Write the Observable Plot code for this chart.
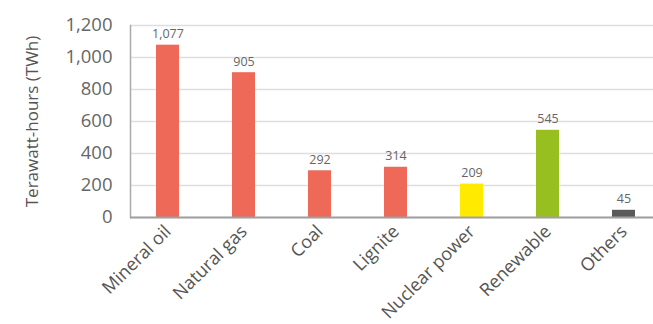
<!DOCTYPE html>
<html>
<head>
<meta charset="utf-8">
<script src="https://cdn.jsdelivr.net/npm/d3@7"></script>
<script src="https://cdn.jsdelivr.net/npm/@observablehq/plot@0.6"></script>
<style>
  html, body { margin: 0; padding: 0; background: #fff; overflow: hidden; }
  #chart { width: 653px; height: 324px; overflow: hidden; }
  #chart svg { overflow: hidden; }
</style>
</head>
<body>
<div id="chart"></div>
<script>
const categories = ["Mineral oil", "Natural gas", "Coal", "Lignite", "Nuclear power", "Renewable", "Others"];
const values = [1077, 905, 292, 314, 209, 545, 45];
const colors = ["#ee6957", "#ee6957", "#ee6957", "#ee6957", "#ffea00", "#97bf1f", "#5a5a5a"];
const yTicks = [0, 200, 400, 600, 800, 1000, 1200];

const data = categories.map((c, i) => ({category: c, value: values[i], color: colors[i]}));

const fmt = d3.format(",");
const font = "'Open Sans', sans-serif";

const chart = Plot.plot({
  width: 653,
  height: 324,
  marginLeft: 130,
  marginRight: -8,
  marginTop: 25,
  marginBottom: 107,
  style: {fontFamily: font, background: "#fff", color: "#666"},
  x: {domain: categories, paddingInner: 0.7, paddingOuter: 0.34},
  y: {domain: [0, 1200]},
  marks: [
    Plot.gridY(yTicks, {stroke: "#dedede", strokeOpacity: 1, strokeWidth: 1.5}),
    Plot.frame({anchor: "left", stroke: "#aaa", strokeWidth: 1.5}),
    Plot.barY(data, {x: "category", y: "value", fill: "color"}),
    Plot.ruleY([0], {stroke: "#a0a0a0", strokeWidth: 2}),
    Plot.text(data, {x: "category", y: "value", text: d => fmt(d.value), dy: -11, fill: "#666", fontSize: 12.5}),
    Plot.axisY({ticks: yTicks, tickFormat: fmt, tickSize: 0, tickPadding: 18, fontSize: 18.5, fill: "#666", label: null}),
    Plot.axisY({ticks: [], tickSize: 0, fontSize: 17, fill: "#555",
      label: "Terawatt-hours (TWh)", labelAnchor: "center", labelArrow: "none", labelOffset: 105}),
    Plot.axisX({tickSize: 0, tickRotate: -45, tickPadding: 11, fontSize: 18, fill: "#555", label: null})
  ]
});
document.getElementById("chart").appendChild(chart);
</script>
</body>
</html>
